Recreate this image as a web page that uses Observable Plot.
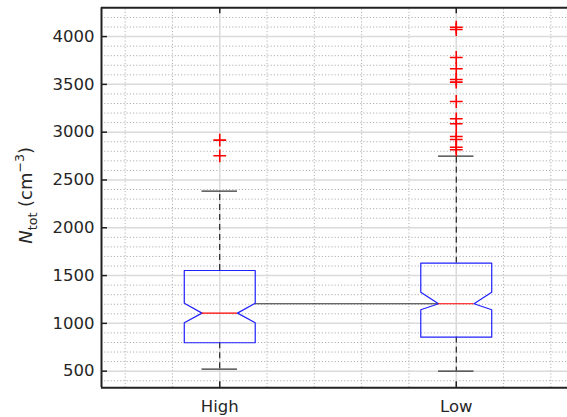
<!DOCTYPE html>
<html>
<head>
<meta charset="utf-8">
<script src="https://cdn.jsdelivr.net/npm/d3@7"></script>
<script src="https://cdn.jsdelivr.net/npm/@observablehq/plot@0.6"></script>
<style>
  html, body { margin: 0; padding: 0; background: white; overflow: hidden; }
</style>
</head>
<body>
<div id="chart"></div>
<script>
// ---- data ----
const categories = ["High", "Low"];
const xPos = [1, 2];
const q1 = [797, 856];
const median = [1107, 1205];
const q3 = [1553, 1630];
const notchLo = [1006, 1142];
const notchHi = [1211, 1326];
const whiskerLo = [521, 500];
const whiskerHi = [2383, 2749];
const outliersHigh = [2917, 2753];
const outliersLow = [4098, 4074, 3781, 3663, 3551, 3523, 3321, 3140, 3088, 2955, 2924, 2843, 2816];
const yTicks = [500, 1000, 1500, 2000, 2500, 3000, 3500, 4000];
const yMinorTicks = [400, 600, 700, 800, 900, 1100, 1200, 1300, 1400, 1600, 1700, 1800, 1900,
  2100, 2200, 2300, 2400, 2600, 2700, 2800, 2900, 3100, 3200, 3300, 3400, 3600, 3700, 3800, 3900, 4100, 4200];
const xMinorTicks = [0.6, 0.8, 1.2, 1.4, 1.6, 1.8, 2.2, 2.4];
const xDomain = [0.5, 2.5];
const yDomain = [326, 4301];

// ---- layout ----
const W = 567, H = 417;
const pLeft = 101, pRight = 574, pTop = 7.3, pBottom = 387.3;
const BW = 0.15;            // box half-width (x units)
const pxX = (xDomain[1] - xDomain[0]) / (pRight - pLeft);
const pxY = (yDomain[1] - yDomain[0]) / (pBottom - pTop);
const TICK = 6;

const boxPts = categories.flatMap((c, i) => {
  const x = xPos[i], w = BW, n = BW / 2;
  return [
    [x - w, q1[i]], [x - w, notchLo[i]], [x - n, median[i]], [x - w, notchHi[i]], [x - w, q3[i]],
    [x + w, q3[i]], [x + w, notchHi[i]], [x + n, median[i]], [x + w, notchLo[i]], [x + w, q1[i]],
    [x - w, q1[i]]
  ].map(([x, y]) => ({c, x, y}));
});
const stats = categories.map((c, i) => ({c, x: xPos[i], q1: q1[i], q3: q3[i], med: median[i],
  lo: whiskerLo[i], hi: whiskerHi[i]}));
const outliers = [
  ...outliersHigh.map(v => ({x: xPos[0], y: v})),
  ...outliersLow.map(v => ({x: xPos[1], y: v}))
];

const plot = Plot.plot({
  width: W, height: H,
  marginLeft: pLeft, marginRight: 0, marginTop: pTop, marginBottom: H - pBottom,
  x: {domain: xDomain, range: [pLeft, pRight]},
  y: {domain: yDomain, range: [pBottom, pTop]},
  style: {fontFamily: "DejaVu Sans", fontSize: "16.5px", color: "#262626", background: "white"},
  marks: [
    Plot.ruleY(yMinorTicks, {x1: xDomain[0], x2: xDomain[1], stroke: "#b0b0b0", strokeWidth: 1, strokeDasharray: "1.2,2"}),
    Plot.ruleX(xMinorTicks, {y1: yDomain[0], y2: yDomain[1], stroke: "#b0b0b0", strokeWidth: 1, strokeDasharray: "1.2,2"}),
    Plot.ruleY(yTicks, {x1: xDomain[0], x2: xDomain[1], stroke: "#dadada", strokeWidth: 1.5}),
    Plot.ruleX(xPos, {y1: yDomain[0], y2: yDomain[1], stroke: "#dadada", strokeWidth: 1.5}),
    Plot.ruleY([median[1]], {x1: xPos[0] + BW, x2: xPos[1] - BW / 2, stroke: "#333", strokeWidth: 1}),
    Plot.ruleX(stats, {x: "x", y1: "q3", y2: "hi", stroke: "black", strokeWidth: 1, strokeDasharray: "6,4"}),
    Plot.ruleX(stats, {x: "x", y1: "q1", y2: "lo", stroke: "black", strokeWidth: 1, strokeDasharray: "6,4"}),
    Plot.ruleY(stats, {y: "hi", x1: d => d.x - BW / 2, x2: d => d.x + BW / 2, stroke: "#333", strokeWidth: 1.2}),
    Plot.ruleY(stats, {y: "lo", x1: d => d.x - BW / 2, x2: d => d.x + BW / 2, stroke: "#333", strokeWidth: 1.2}),
    Plot.line(boxPts, {x: "x", y: "y", z: "c", stroke: "#2020ff", strokeWidth: 1.2}),
    Plot.ruleY(stats, {y: "med", x1: d => d.x - BW / 2, x2: d => d.x + BW / 2, stroke: "red", strokeWidth: 1.2}),
    Plot.dot(outliers, {x: "x", y: "y", symbol: "plus", r: 4.2, stroke: "red", strokeWidth: 1.6}),
    Plot.ruleX([xDomain[0]], {y1: yDomain[0], y2: yDomain[1], stroke: "#222", strokeWidth: 2}),
    Plot.ruleY([yDomain[0], yDomain[1]], {x1: xDomain[0], x2: xDomain[1], stroke: "#222", strokeWidth: 2}),
    Plot.ruleY(yTicks, {x1: xDomain[0], x2: xDomain[0] + TICK * pxX, stroke: "#222", strokeWidth: 1.5}),
    Plot.ruleX(xPos, {y1: yDomain[1], y2: yDomain[1] - TICK * pxY, stroke: "#222", strokeWidth: 1.5}),
    Plot.ruleX(xPos, {y1: yDomain[0], y2: yDomain[0] + TICK * pxY, stroke: "#222", strokeWidth: 1.5}),
    Plot.axisY(yTicks, {anchor: "left", tickSize: 0, tickPadding: 7, tickFormat: d => String(d), label: null, fontSize: 16.5}),
    Plot.axisX(xPos, {anchor: "bottom", tickSize: 0, tickPadding: 12, tickFormat: d => categories[d - 1], label: null, fontSize: 16.5})
  ]
});

document.getElementById("chart").appendChild(plot);

const svg = d3.select(plot);
const t = svg.append("text")
  .attr("transform", `translate(32, ${(pTop + pBottom) / 2 - 2}) rotate(-90)`)
  .attr("text-anchor", "middle")
  .attr("fill", "#262626")
  .style("font-family", "DejaVu Sans")
  .style("font-size", "18px");
t.append("tspan").style("font-style", "italic").text("N");
t.append("tspan").attr("dy", 4.5).style("font-size", "12.6px").text("tot");
t.append("tspan").attr("dy", -4.5).text(" (cm");
t.append("tspan").attr("dy", -8).style("font-size", "12.6px").text("\u22123");
t.append("tspan").attr("dy", 8).text(")");
</script>
</body>
</html>
